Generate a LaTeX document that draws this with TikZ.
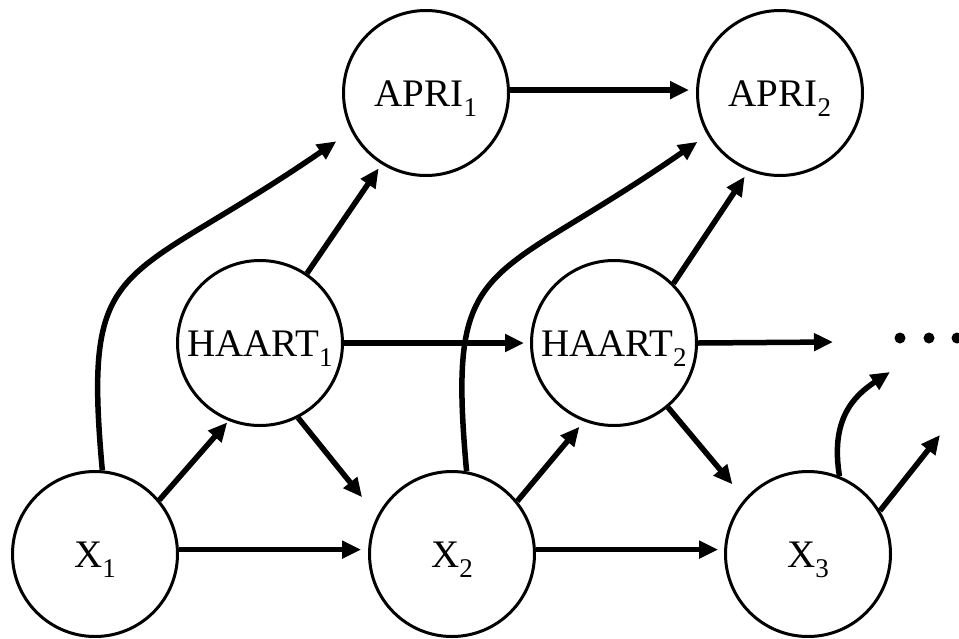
\documentclass[tikz,border=0pt]{standalone}
\usepackage{fontspec}
\setmainfont{Liberation Serif}
\usetikzlibrary{arrows.meta}
\newcommand\lowsub[1]{\raisebox{-10pt}{\fontsize{27}{27}\selectfont #1}}
\tikzset{
  var/.style={circle, draw, line width=3pt, minimum size=165pt, inner sep=0pt,
    outer sep=1.5pt, font=\fontsize{39}{47}\selectfont, text height=27pt, text depth=0pt},
  arr/.style={line width=5.5pt, -{Triangle[length=19pt,width=17pt]}},
}
\begin{document}
\begin{tikzpicture}[x=1pt,y=-1pt]
\fill[white] (0,0) rectangle (959,638);
\useasboundingbox (0,0) rectangle (959,638);

\node[var] (A1) at (426,93) {APRI\lowsub{1}};
\node[var] (A2) at (780,93) {APRI\lowsub{2}};
\node[var] (H1) at (260,343) {HAART\lowsub{1}};
\node[var] (H2) at (614,343) {HAART\lowsub{2}};
\node[var] (X1) at (95,554) {X\lowsub{1}};
\node[var] (X2) at (452,554) {X\lowsub{2}};
\node[var] (X3) at (808,554) {X\lowsub{3}};

\coordinate (e1) at (890,372);
\coordinate (e2) at (940,435);
\coordinate (e3) at (833,342);

% horizontal arrows
\draw[arr, shorten >=7pt] (A1.2) -- (A2.178);
\draw[arr, shorten >=6pt] (H1.east) -- (H2.west);
\draw[arr, shorten >=7pt] (X1.3) -- (X2.177);
\draw[arr, shorten >=6pt] (X2.3) -- (X3.177);
\draw[arr] (H2.east) -- (e3);

% diagonal arrows
\draw[arr, shorten >=2pt] (X1.40) -- (H1.248);
\draw[arr, shorten >=24pt] (H1.297) -- (X2.153);
\draw[arr, shorten >=5pt] (H1.56) -- (A1.238);
\draw[arr, shorten >=7pt] (X2.39) -- (H2.249);
\draw[arr, shorten >=19pt] (H2.310) -- (X3.139);
\draw[arr, shorten >=7pt] (H2.45) -- (A2.248);

% curved arrows
\draw[arr, shorten >=18pt] (X1.85) .. controls +(-20,-220) and +(-230,158) .. (A1.207);
\draw[arr, shorten >=12pt] (X2.80) .. controls +(-20,-220) and +(-222,154) .. (A2.210);
\draw[arr] (X3.68) .. controls +(-9,-55) and +(-38,25) .. (e1);
\draw[arr] (X3.31) -- (e2);

% continuation dots
\fill (900,338) circle (5.5pt);
\fill (929,338) circle (5.5pt);
\fill (957,338) circle (5.5pt);
\end{tikzpicture}
\end{document}
